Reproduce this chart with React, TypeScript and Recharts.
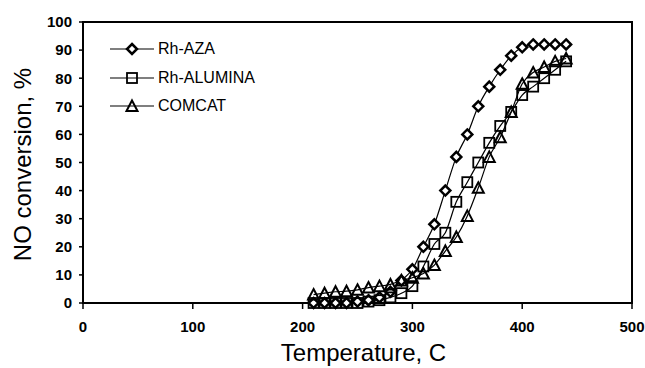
import React from "react";
import { LineChart, Line, XAxis, YAxis, ReferenceArea, Legend, Label } from "recharts";

// temperature, C
const temps = [210, 220, 230, 240, 250, 260, 270, 280, 290, 300, 310, 320, 330, 340, 350, 360, 370, 380, 390, 400, 410, 420, 430, 440];
// NO conversion, %
const rhAza = [0, 0, 0, 0, 0.5, 1, 2, 4, 8, 12, 20, 28, 40, 52, 60, 70, 77, 83, 88, 91, 92, 92, 92, 92];
const rhAlumina = [0, 0, 0, 0, 0, 0.5, 1, 2, 3.5, 6, 13, 21, 25, 36, 43, 50, 57, 63, 68, 74, 77, 80, 83, 86];
const comcat = [3, 3.5, 4, 4.2, 4.7, 5.5, 6, 6.6, 8, 9, 10.5, 13.5, 18.5, 23.5, 31, 41, 52, 59, 68, 78, 82, 84, 86, 87];

const xTicks = [0, 100, 200, 300, 400, 500];
const yTicks = [0, 10, 20, 30, 40, 50, 60, 70, 80, 90, 100];
const legendOrder = ["aza", "alumina", "comcat"];

const data = temps.map((t, i) => ({ t, aza: rhAza[i], alumina: rhAlumina[i], comcat: comcat[i] }));

const FONT = "'Liberation Sans', Arial, sans-serif";

const Diamond = ({ cx, cy }: { cx: number; cy: number }) => (
  <path d={`M${cx},${cy - 5} L${cx + 5},${cy} L${cx},${cy + 5} L${cx - 5},${cy} Z`} fill="#fff" stroke="#000" strokeWidth={2.5} />
);
const Square = ({ cx, cy }: { cx: number; cy: number }) => (
  <rect x={cx - 5} y={cy - 5} width={10} height={10} fill="none" stroke="#000" strokeWidth={1.8} />
);
const Triangle = ({ cx, cy }: { cx: number; cy: number }) => (
  <path d={`M${cx},${cy - 5.5} L${cx + 5.5},${cy + 5} L${cx - 5.5},${cy + 5} Z`} fill="none" stroke="#000" strokeWidth={2} />
);

const markers: Record<string, any> = { aza: Diamond, alumina: Square, comcat: Triangle };

const LegendBox = ({ payload }: any) => {
  const items = [...(payload || [])].sort(
    (a: any, b: any) => legendOrder.indexOf(a.dataKey) - legendOrder.indexOf(b.dataKey)
  );
  return (
    <div style={{ fontFamily: FONT, fontSize: 16, color: "#000" }}>
      {items.map((p: any) => {
        const M = markers[p.dataKey];
        return (
          <div key={p.dataKey} style={{ display: "flex", alignItems: "center", height: 28.5 }}>
            <svg width={48} height={20}>
              <line x1={2} x2={46} y1={10} y2={10} stroke="#000" strokeWidth={1.2} />
              <M cx={24} cy={10} />
            </svg>
            <span style={{ marginLeft: 2 }}>{p.value}</span>
          </div>
        );
      })}
    </div>
  );
};

const YTitle = ({ viewBox }: any) => {
  const x = 22;
  const y = viewBox.y + viewBox.height / 2 + 2;
  return (
    <text x={x} y={y} transform={`rotate(-90, ${x}, ${y})`} textAnchor="middle" dominantBaseline="central"
      fontFamily={FONT} fontSize={24} fill="#000">
      NO conversion, %
    </text>
  );
};

const XTitle = ({ viewBox }: any) => {
  const x = viewBox.x + viewBox.width / 2 + 6;
  return (
    <text x={x} y={361} textAnchor="middle" fontFamily={FONT} fontSize={24} fill="#000">
      Temperature, C
    </text>
  );
};

export default function App() {
  const tickStyle = { fontSize: 15, fontWeight: 700, fill: "#000", fontFamily: FONT };
  return (
    <div style={{ position: "absolute", left: 0, top: 0, background: "#fff" }}>
      <LineChart width={645} height={368} data={data} margin={{ top: 22, right: 13, bottom: 25, left: 23 }}>
        <ReferenceArea x1={0} x2={500} y1={0} y2={100} fill="none" stroke="#000" strokeWidth={2} />
        <XAxis
          type="number" dataKey="t" domain={[0, 500]} ticks={xTicks} height={40}
          tick={tickStyle} tickSize={6} tickMargin={12}
          axisLine={{ stroke: "#000", strokeWidth: 2 }} tickLine={{ stroke: "#000", strokeWidth: 1.5 }}
        >
          <Label content={<XTitle />} />
        </XAxis>
        <YAxis
          type="number" domain={[0, 100]} ticks={yTicks} width={60} interval={0}
          tick={tickStyle} tickSize={4} tickMargin={7}
          axisLine={{ stroke: "#000", strokeWidth: 2 }} tickLine={{ stroke: "#000", strokeWidth: 1.5 }}
        >
          <Label content={<YTitle />} />
        </YAxis>
        <Legend
          layout="vertical" align="center" verticalAlign="middle"
          content={<LegendBox />}
          wrapperStyle={{ left: 108, top: 35, width: "auto", height: "auto" }}
        />
        <Line type="monotone" dataKey="aza" name="Rh-AZA" stroke="#000" strokeWidth={1.2} isAnimationActive={false}
          dot={(p: any) => <Diamond key={p.index} cx={p.cx} cy={p.cy} />} />
        <Line type="monotone" dataKey="alumina" name="Rh-ALUMINA" stroke="#000" strokeWidth={1.2} isAnimationActive={false}
          dot={(p: any) => <Square key={p.index} cx={p.cx} cy={p.cy} />} />
        <Line type="monotone" dataKey="comcat" name="COMCAT" stroke="#000" strokeWidth={1.2} isAnimationActive={false}
          dot={(p: any) => <Triangle key={p.index} cx={p.cx} cy={p.cy} />} />
      </LineChart>
    </div>
  );
}
